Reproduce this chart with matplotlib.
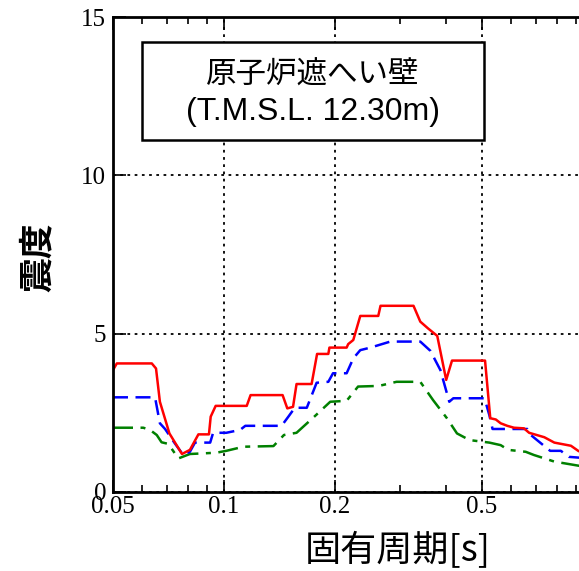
import matplotlib
matplotlib.use("Agg")
import matplotlib.pyplot as plt
from matplotlib.patches import Rectangle
from matplotlib.ticker import FixedLocator, NullFormatter

# periods [s] and values
red_t = [0.05, 0.0512, 0.0637, 0.0654, 0.0670, 0.0711, 0.0769, 0.0808, 0.0852, 0.0910,
         0.0920, 0.0949, 0.1152, 0.1180, 0.1441, 0.1484, 0.1538, 0.1572, 0.1727, 0.1787,
         0.1917, 0.1930, 0.2149, 0.2170, 0.2240, 0.2340, 0.2618, 0.2655, 0.3262, 0.3403,
         0.3568, 0.3783, 0.4000, 0.4148, 0.5098, 0.5267, 0.5452, 0.5620, 0.5856, 0.6107,
         0.6500, 0.6712, 0.7378, 0.7856, 0.8715, 0.9143, 1.0]
red_v = [3.85, 4.06, 4.06, 3.90, 2.85, 1.85, 1.20, 1.33, 1.82, 1.82,
         2.38, 2.72, 2.72, 3.06, 3.06, 2.64, 2.69, 3.41, 3.41, 4.36,
         4.36, 4.56, 4.56, 4.67, 4.80, 5.56, 5.56, 5.88, 5.88, 5.38,
         5.17, 4.93, 3.54, 4.15, 4.15, 2.33, 2.29, 2.17, 2.09, 2.03,
         2.01, 1.87, 1.73, 1.56, 1.46, 1.29, 1.20]

blue_t = [0.05, 0.0650, 0.0670, 0.0692, 0.0735, 0.0775, 0.0808, 0.0834, 0.0917, 0.0934,
          0.1014, 0.1105, 0.1142, 0.1432, 0.1494, 0.1555, 0.1676, 0.1782, 0.1917, 0.1974,
          0.2149, 0.2240, 0.2340, 0.2493, 0.2822, 0.3403, 0.3623, 0.3858, 0.4078, 0.4182,
          0.5081, 0.5236, 0.5342, 0.6640, 0.6783, 0.7655, 0.8181, 0.8600, 1.0]
blue_v = [2.99, 2.99, 2.17, 1.99, 1.54, 1.17, 1.27, 1.56, 1.56, 1.87,
          1.87, 1.96, 2.09, 2.09, 2.38, 2.66, 2.66, 3.45, 3.48, 3.75,
          3.75, 4.22, 4.48, 4.56, 4.75, 4.75, 4.46, 3.85, 2.85, 2.96,
          2.96, 2.43, 1.99, 1.99, 1.80, 1.30, 1.30, 1.11, 1.05]

green_t = [0.05, 0.0604, 0.0630, 0.0657, 0.0677, 0.0706, 0.0752, 0.0808, 0.0952, 0.1014,
           0.1129, 0.1361, 0.1453, 0.1572, 0.1764, 0.1940, 0.2149, 0.2308, 0.2628, 0.2935,
           0.3403, 0.3687, 0.4018, 0.4279, 0.4627, 0.5000, 0.5236, 0.5620, 0.5892, 0.6570,
           0.6910, 0.7856, 0.9143, 1.0]
green_v = [2.03, 2.03, 1.96, 1.80, 1.57, 1.52, 1.06, 1.20, 1.24, 1.30,
           1.43, 1.45, 1.80, 1.87, 2.40, 2.85, 2.88, 3.33, 3.35, 3.48,
           3.48, 2.90, 2.33, 1.85, 1.64, 1.59, 1.56, 1.48, 1.33, 1.27,
           1.17, 0.96, 0.83, 0.78]

x_major = [0.05, 0.1, 0.2, 0.5, 1.0]
x_labels = ["0.05", "0.1", "0.2", "0.5", ""]  # 1 falls outside the cropped picture
x_minor = [0.06, 0.07, 0.08, 0.09, 0.3, 0.4, 0.6, 0.7, 0.8, 0.9]
y_ticks = [0, 5, 10, 15]

title_lines = ["原子炉遮へい壁", "(T.M.S.L. 12.30m)"]
xlabel = "固有周期[s]"
ylabel = "震度"

jp = ["Noto Sans CJK JP", "DejaVu Sans"]
serif = "Liberation Serif"

fig = plt.figure(figsize=(5.79, 5.71), dpi=100)
W, H = 579, 571
ax = fig.add_axes([113 / W, 79 / H, 480 / W, 475 / H])

ax.plot(green_t, green_v, color="green", lw=1.8, linestyle=(0, (8, 3, 2, 3)))
ax.plot(blue_t, blue_v, color="blue", lw=1.8, linestyle=(0, (6, 3)))
ax.plot(red_t, red_v, color="red", lw=1.8)

ax.set_xscale("log")
ax.set_xlim(0.05, 1.0)
ax.set_ylim(0, 15)
ax.xaxis.set_major_locator(FixedLocator(x_major))
ax.set_xticklabels(x_labels, fontfamily=serif, fontsize=18)
ax.xaxis.set_minor_locator(FixedLocator(x_minor))
ax.xaxis.set_minor_formatter(NullFormatter())
ax.set_yticks(y_ticks)
ax.set_yticklabels([str(v) for v in y_ticks], fontfamily=serif, fontsize=18)

ax.tick_params(which="both", direction="in", top=True, right=True, width=1.2)
ax.tick_params(which="major", length=9, pad=3)
ax.tick_params(which="minor", length=5)
ax.tick_params(axis="y", pad=5)
for s in ax.spines.values():
    s.set_linewidth(2)

ax.grid(True, which="major", color="black", linestyle=(0, (1.5, 2.5)), lw=1.3)

# label box
fig.patches.append(Rectangle((142 / W, 1 - 140 / H), 342 / W, 98 / H,
                             transform=fig.transFigure, facecolor="white",
                             edgecolor="black", lw=1.8, zorder=5))
fig.text(313 / W, 1 - 75 / H, title_lines[0], family=jp, fontsize=22,
         ha="center", va="center", zorder=6)
fig.text(313 / W, 1 - 112 / H, title_lines[1], family=["Liberation Sans"] + jp,
         fontsize=23, ha="center", va="center", zorder=6)

fig.text(398 / W, 1 - 551 / H, xlabel, family=jp, fontsize=26, ha="center", va="center")
fig.text(37 / W, 1 - 257 / H, ylabel, family=jp, fontsize=25, fontweight="bold",
         rotation=90, ha="center", va="center")

fig.savefig("out.png", dpi=100)
